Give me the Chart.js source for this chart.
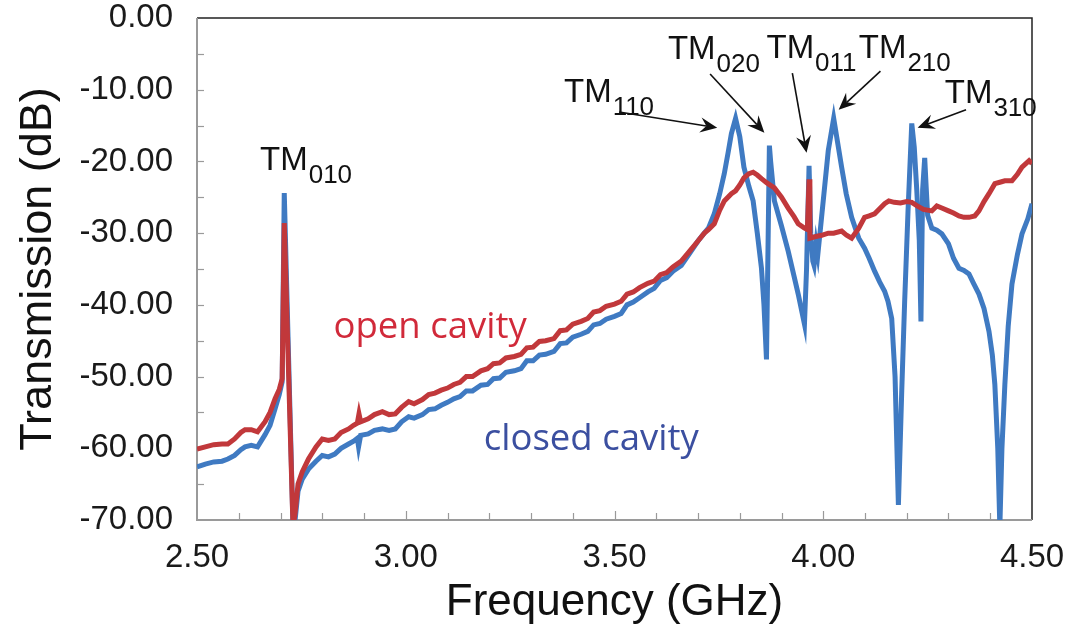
<!DOCTYPE html>
<html>
<head>
<meta charset="utf-8">
<script src="https://cdn.jsdelivr.net/npm/chart.js@4/dist/chart.umd.min.js"></script>
<style>
html,body{margin:0;padding:0;background:#fff;}
#wrap{width:1066px;height:637px;position:relative;}
</style>
</head>
<body>
<div id="wrap"><canvas id="c"></canvas></div>
<script>
// ---- data ----
const freqClosed = [2.500,2.520,2.540,2.560,2.574,2.590,2.605,2.615,2.630,2.645,
2.663,2.675,2.687,2.697,2.704,2.709,2.730,2.735,2.742,2.752,
2.767,2.785,2.800,2.815,2.830,2.845,2.863,2.875,2.884,2.887,
2.892,2.910,2.925,2.944,2.960,2.975,2.990,3.007,3.020,3.040,
3.055,3.070,3.085,3.100,3.115,3.130,3.145,3.160,3.180,3.196,
3.210,3.225,3.240,3.260,3.276,3.290,3.305,3.320,3.335,3.355,
3.370,3.385,3.400,3.420,3.436,3.450,3.465,3.480,3.500,3.516,
3.530,3.545,3.560,3.580,3.595,3.610,3.625,3.640,3.660,3.680,
3.700,3.715,3.725,3.739,3.752,3.763,3.772,3.780,3.790,3.800,
3.810,3.822,3.832,3.842,3.852,3.858,3.864,3.867,3.871,3.874,
3.883,3.900,3.916,3.930,3.940,3.955,3.960,3.966,3.970,3.975,
3.978,3.983,3.987,3.996,4.012,4.025,4.044,4.055,4.068,4.085,
4.099,4.110,4.123,4.135,4.147,4.155,4.164,4.172,4.180,4.188,
4.195,4.203,4.212,4.218,4.224,4.230,4.234,4.238,4.243,4.246,
4.250,4.260,4.272,4.284,4.300,4.312,4.325,4.337,4.349,4.360,
4.373,4.385,4.397,4.405,4.411,4.418,4.423,4.428,4.435,4.443,
4.452,4.465,4.476,4.490,4.500];
const dbClosed = [-62.6,-62.2,-61.9,-61.8,-61.5,-61.0,-60.2,-59.8,-59.6,-59.8,
-58.1,-56.8,-54.5,-52.5,-50.7,-24.4,-71,-70,-66,-64.3,
-62.9,-61.8,-61.0,-61.2,-60.8,-60.0,-59.4,-59.0,-58.6,-59.8,
-58.2,-58.0,-57.5,-57.3,-57.5,-57.3,-56.3,-55.6,-55.8,-55.3,
-54.6,-54.5,-54.0,-53.6,-53.1,-52.8,-52.0,-52.0,-51.2,-51.1,
-50.3,-50.2,-49.4,-49.2,-48.9,-47.8,-47.8,-47.0,-46.9,-46.5,
-45.4,-45.3,-44.5,-44.1,-43.7,-42.8,-42.6,-42.0,-41.6,-41.2,
-40.0,-39.6,-39.0,-38.2,-37.7,-36.6,-36.2,-35.3,-34.5,-32.8,
-31.1,-30.0,-29.3,-27.3,-24.5,-21.7,-18.8,-16.1,-14.0,-16.5,
-20.8,-23.5,-25.5,-30.0,-34.9,-40.0,-47.6,-35.0,-17.8,-20.0,
-25.5,-29.0,-32.5,-36.0,-38.5,-42.7,-35.0,-20.6,-30.0,-33.9,
-34.5,-31.5,-33.0,-27.8,-18.5,-14.0,-20.8,-24.5,-27.8,-30.7,
-32.1,-33.5,-35.3,-36.8,-38.1,-39.5,-41.9,-50.0,-67.9,-52.0,
-39.5,-27.0,-14.7,-18.0,-24.0,-31.0,-42.3,-24.0,-19.5,-23.0,
-27.5,-29.3,-29.6,-30.1,-31.5,-33.5,-34.9,-35.2,-35.7,-37.0,
-38.5,-40.5,-43.7,-47.0,-51.1,-60.0,-71.0,-60.0,-51.1,-43.0,
-37.1,-33.0,-30.1,-28.0,-25.9];

const freqOpen = [2.500,2.520,2.540,2.560,2.574,2.590,2.605,2.615,2.630,2.645,
2.663,2.675,2.687,2.697,2.704,2.709,2.730,2.735,2.742,2.752,
2.767,2.785,2.800,2.815,2.830,2.845,2.863,2.875,2.884,2.888,
2.892,2.910,2.925,2.944,2.960,2.975,2.990,3.007,3.020,3.040,
3.055,3.070,3.085,3.100,3.115,3.130,3.145,3.160,3.180,3.196,
3.210,3.225,3.240,3.260,3.276,3.290,3.305,3.320,3.335,3.355,
3.370,3.385,3.400,3.420,3.436,3.450,3.465,3.480,3.500,3.516,
3.530,3.545,3.560,3.580,3.595,3.610,3.625,3.640,3.660,3.680,
3.700,3.715,3.725,3.739,3.752,3.763,3.780,3.790,3.800,3.810,
3.822,3.832,3.842,3.852,3.865,3.883,3.900,3.916,3.930,3.940,
3.955,3.962,3.966,3.968,3.980,3.996,4.012,4.025,4.044,4.056,
4.068,4.085,4.099,4.110,4.123,4.135,4.147,4.157,4.170,4.185,
4.200,4.212,4.225,4.240,4.260,4.272,4.284,4.300,4.312,4.325,
4.337,4.349,4.363,4.373,4.385,4.397,4.411,4.423,4.435,4.452,
4.465,4.476,4.493,4.500];
const dbOpen = [-60.1,-59.8,-59.5,-59.4,-59.4,-58.7,-57.8,-57.4,-57.4,-57.7,
-56.3,-55.0,-53.1,-51.8,-50.3,-28.6,-71,-69,-65,-63.3,
-61.5,-59.8,-58.7,-58.9,-58.7,-57.8,-57.3,-56.8,-56.5,-55.2,
-56.3,-55.9,-55.3,-54.9,-55.3,-55.2,-54.3,-53.5,-53.8,-53.2,
-52.5,-52.3,-51.9,-51.6,-51.1,-50.8,-50.0,-50.0,-49.2,-48.9,
-48.2,-48.1,-47.4,-47.2,-46.9,-46.0,-45.9,-45.1,-45.0,-44.7,
-43.6,-43.5,-42.7,-42.3,-41.9,-41.0,-40.8,-40.2,-39.9,-39.5,
-38.5,-38.2,-37.6,-37.0,-36.7,-35.8,-35.5,-34.7,-33.9,-32.5,
-31.1,-30.0,-29.5,-28.7,-26.8,-25.5,-24.5,-24.1,-23.3,-22.3,
-21.7,-21.5,-21.9,-22.4,-23.0,-23.7,-25.0,-26.5,-27.7,-28.7,
-29.3,-29.5,-22.5,-30.7,-30.5,-30.3,-30.0,-30.0,-29.7,-30.3,
-30.7,-29.3,-27.8,-27.6,-27.3,-26.6,-25.9,-25.5,-25.7,-25.8,
-25.6,-25.7,-26.2,-26.7,-26.9,-26.2,-26.5,-26.9,-27.2,-27.6,
-27.8,-27.8,-27.6,-26.9,-25.6,-24.5,-23.1,-22.9,-22.7,-22.7,
-21.8,-20.8,-19.9,-20.3];

// mode labels: text, subscript, anchor (GHz, dB)
const modeNames = ['TM','TM','TM','TM','TM','TM'];
const modeSubs  = ['010','110','020','011','210','310'];
const modeX     = [2.651,3.379,3.628,3.864,4.085,4.291];
const modeY     = [-21.2,-11.7,-5.7,-5.6,-5.6,-11.9];
// arrows: from (x1,y1) to (x2,y2)
const arrowX1 = [3.511,3.729,3.926,4.137,4.342];
const arrowY1 = [-13.1,-7.8,-7.7,-7.4,-12.8];
const arrowX2 = [3.746,3.859,3.960,4.037,4.226];
const arrowY2 = [-15.3,-16.0,-18.8,-12.8,-15.3];
// series labels
const seriesLabels = ['open cavity','closed cavity'];
const seriesLabelX = [2.827,3.187];
const seriesLabelY = [-44.6,-60.2];

const BLUE = '#3F7AC2';
const RED = '#C1383B';
const xTickVals = [2.5,3.0,3.5,4.0,4.5];
const yTickVals = [0,-10,-20,-30,-40,-50,-60,-70];
const FONT = '"Liberation Sans", Arial, sans-serif';

const frame = {
  id:'frame',
  beforeDatasetsDraw(chart){
    const {ctx, chartArea:a, scales:{x,y}} = chart;
    ctx.save();
    ctx.lineWidth = 1.5;
    ctx.strokeStyle = '#222';
    ctx.beginPath();
    ctx.moveTo(a.left, a.top); ctx.lineTo(a.right, a.top); ctx.lineTo(a.right, a.bottom);
    ctx.stroke();
    ctx.strokeStyle = '#9a9a9a';
    ctx.lineWidth = 2;
    ctx.beginPath();
    ctx.moveTo(a.left, a.top); ctx.lineTo(a.left, a.bottom); ctx.lineTo(a.right, a.bottom);
    ctx.stroke();
    ctx.lineWidth = 1.2;
    for (let v = -65; v <= -5; v += 5) {
      const py = Math.round(y.getPixelForValue(v)) + 0.5;
      ctx.beginPath(); ctx.moveTo(a.left, py); ctx.lineTo(a.left + 7, py); ctx.stroke();
    }
    for (let i = 1; i < 20; i++) {
      const v = 2.5 + i * 0.1;
      const px = Math.round(x.getPixelForValue(v)) + 0.5;
      const len = (i % 5 === 0) ? 9 : 7;
      ctx.beginPath(); ctx.moveTo(px, a.bottom); ctx.lineTo(px, a.bottom - len); ctx.stroke();
    }
    ctx.restore();
  },
  afterDatasetsDraw(chart){
    const {ctx, scales:{x,y}} = chart;
    ctx.save();
    ctx.fillStyle = '#111';
    ctx.textBaseline = 'alphabetic';
    ctx.textAlign = 'left';
    for (let i = 0; i < modeNames.length; i++) {
      const px = x.getPixelForValue(modeX[i]);
      const py = y.getPixelForValue(modeY[i]);
      ctx.font = '33px ' + FONT;
      ctx.fillText(modeNames[i], px, py);
      const w = ctx.measureText(modeNames[i]).width;
      ctx.font = '26px ' + FONT;
      ctx.fillText(modeSubs[i], px + w + 1, py + 13);
    }
    ctx.strokeStyle = '#111';
    ctx.lineWidth = 1.6;
    for (let i = 0; i < arrowX1.length; i++) {
      const x1 = x.getPixelForValue(arrowX1[i]), y1 = y.getPixelForValue(arrowY1[i]);
      const x2 = x.getPixelForValue(arrowX2[i]), y2 = y.getPixelForValue(arrowY2[i]);
      const ang = Math.atan2(y2 - y1, x2 - x1);
      const hl = 17, hw = 7.5, notch = 11;
      const bx = x2 - notch * Math.cos(ang), by = y2 - notch * Math.sin(ang);
      ctx.beginPath(); ctx.moveTo(x1, y1); ctx.lineTo(bx, by); ctx.stroke();
      const cx = x2 - hl * Math.cos(ang), cy = y2 - hl * Math.sin(ang);
      const nx = -Math.sin(ang), ny = Math.cos(ang);
      ctx.beginPath();
      ctx.moveTo(x2, y2);
      ctx.lineTo(cx + nx * hw, cy + ny * hw);
      ctx.lineTo(bx, by);
      ctx.lineTo(cx - nx * hw, cy - ny * hw);
      ctx.closePath();
      ctx.fill();
    }
    ctx.font = '36.5px "Open Sans", "Noto Sans", sans-serif';
    ctx.fillStyle = '#D12A3A';
    ctx.fillText(seriesLabels[0], x.getPixelForValue(seriesLabelX[0]), y.getPixelForValue(seriesLabelY[0]));
    ctx.fillStyle = '#3B4FA0';
    ctx.fillText(seriesLabels[1], x.getPixelForValue(seriesLabelX[1]), y.getPixelForValue(seriesLabelY[1]));
    ctx.restore();
  }
};

const mk = (xs, ys) => xs.map((v, i) => ({x: v, y: ys[i]}));

new Chart(document.getElementById('c'), {
  type: 'line',
  data: {
    datasets: [
      {label:'open cavity', data: mk(freqOpen, dbOpen), borderColor: RED, borderWidth: 5, pointRadius: 0, tension: 0, order: 0},
      {label:'closed cavity', data: mk(freqClosed, dbClosed), borderColor: BLUE, borderWidth: 5, pointRadius: 0, tension: 0, order: 1}
    ]
  },
  options: {
    responsive: true,
    maintainAspectRatio: false,
    animation: false,
    layout: {padding: {top: 18, right: 34, left: 0, bottom: 0}},
    plugins: {legend: {display: false}, tooltip: {enabled: false}},
    scales: {
      x: {
        type: 'linear', min: 2.5, max: 4.5,
        afterBuildTicks: s => { s.ticks = xTickVals.map(v => ({value: v})); },
        afterFit: s => { s.height = 117; s.paddingLeft = 0; s.paddingRight = 0; },
        grid: {display: false, drawTicks: false},
        border: {display: false},
        ticks: {padding: 18, color: '#1a1a1a', font: {family: FONT, size: 33},
                callback: v => Number(v).toFixed(2), maxRotation: 0, autoSkip: false},
        title: {display: true, text: 'Frequency (GHz)', color: '#111',
                font: {family: FONT, size: 44, lineHeight: 1},
                padding: {top: 0, bottom: 12}}
      },
      y: {
        type: 'linear', min: -70, max: 0,
        afterBuildTicks: s => { s.ticks = yTickVals.map(v => ({value: v})); },
        afterFit: s => { s.width = 197; s.paddingTop = 0; s.paddingBottom = 0; },
        grid: {display: false, drawTicks: false},
        border: {display: false},
        ticks: {padding: 24, color: '#1a1a1a', font: {family: FONT, size: 33},
                callback: v => Number(v).toFixed(2), autoSkip: false},
        title: {display: true, text: 'Transmission (dB)', color: '#111',
                font: {family: FONT, size: 45, lineHeight: 1},
                padding: {top: 16, bottom: 0}}
      }
    }
  },
  plugins: [frame]
});
</script>
</body>
</html>
